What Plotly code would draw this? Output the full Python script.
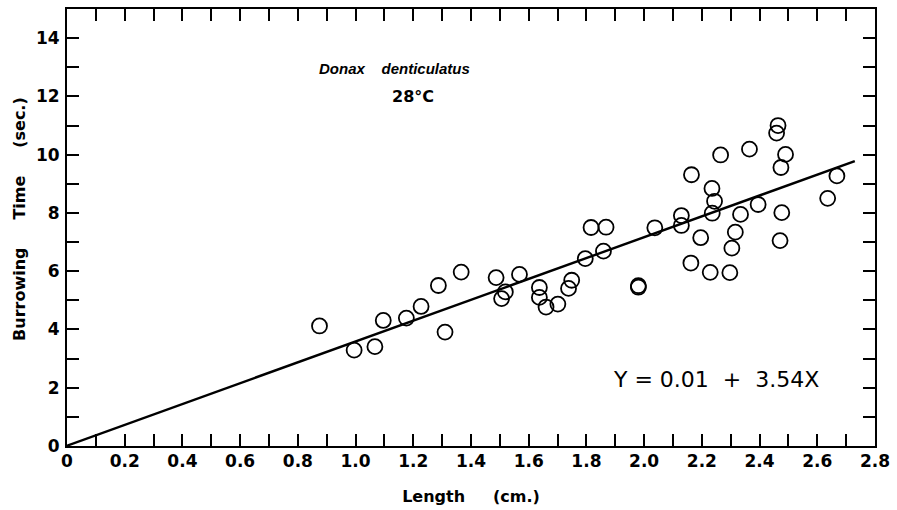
import plotly.graph_objects as go

# Data: shell length (cm) vs burrowing time (s)
length_cm = [0.875, 0.995, 1.067, 1.096, 1.176, 1.227, 1.287, 1.31, 1.366,
             1.487, 1.506, 1.519, 1.568, 1.637, 1.637, 1.66, 1.701, 1.738, 1.749,
             1.796, 1.816, 1.859, 1.868, 1.98, 1.98, 2.037, 2.129, 2.129,
             2.162, 2.164, 2.196, 2.229, 2.236, 2.244, 2.235, 2.265,
             2.297, 2.304, 2.316, 2.334, 2.365, 2.395,
             2.459, 2.464, 2.471, 2.474, 2.477, 2.49, 2.636, 2.668]
burrow_s = [4.12, 3.29, 3.41, 4.31, 4.39, 4.79, 5.51, 3.91, 5.97,
            5.78, 5.06, 5.29, 5.89, 5.44, 5.10, 4.77, 4.87, 5.41, 5.69,
            6.43, 7.50, 6.69, 7.51, 5.50, 5.45, 7.49, 7.91, 7.57,
            6.28, 9.31, 7.15, 5.96, 7.99, 8.40, 8.84, 9.99,
            5.95, 6.79, 7.34, 7.95, 10.19, 8.29,
            10.74, 11.0, 7.05, 9.56, 8.01, 10.01, 8.50, 9.27]

# Regression line Y = 0.01 + 3.54X, endpoints as drawn
fit_x = [0.0, 2.73]
fit_y = [0.01, 9.78]

x_tickvals = [i / 10 for i in range(0, 29)]
x_ticktext = ["0", "", "0.2", "", "0.4", "", "0.6", "", "0.8", "", "1.0", "",
              "1.2", "", "1.4", "", "1.6", "", "1.8", "", "2.0", "", "2.2", "",
              "2.4", "", "2.6", "", "2.8"]
y_tickvals = list(range(0, 15))
y_ticktext = ["0", "", "2", "", "4", "", "6", "", "8", "", "10", "", "12", "", "14"]

font_family = "DejaVu Sans"
sp = "\u00a0"

fig = go.Figure()
fig.add_trace(go.Scatter(
    x=fit_x, y=fit_y, mode="lines",
    line=dict(color="black", width=2.4),
    showlegend=False, hoverinfo="skip"))
fig.add_trace(go.Scatter(
    x=length_cm, y=burrow_s, mode="markers",
    marker=dict(symbol="circle-open", size=15, color="black",
                line=dict(width=1.8, color="black")),
    showlegend=False))

axis_common = dict(
    showgrid=False, zeroline=False, showline=True, linecolor="black",
    linewidth=2, mirror="ticks", ticks="inside", ticklen=12, tickwidth=1.7,
    tickcolor="black",
    tickfont=dict(family=font_family, size=17, color="black", weight="bold"))

fig.update_xaxes(
    range=[0, 2.8], tickmode="array", tickvals=x_tickvals, ticktext=x_ticktext,
    title=dict(text="<b>Length" + sp * 5 + "(cm.)</b>",
               font=dict(family=font_family, size=16, color="black"), standoff=20),
    ticklabelstandoff=-1,
    **axis_common)
fig.update_yaxes(
    range=[0, 15], tickmode="array", tickvals=y_tickvals, ticktext=y_ticktext,
    ticklabelstandoff=2,
    **axis_common)

# y-axis title placed as in the original
fig.add_annotation(x=-0.058, y=0.52, xref="paper", yref="paper", showarrow=False,
                   textangle=-90, xanchor="center", yanchor="middle",
                   text="<b>Burrowing" + sp * 5 + "Time" + sp * 5 + "(sec.)</b>",
                   font=dict(family=font_family, size=16, color="black"))

fig.add_annotation(x=1.135, y=12.95, xref="x", yref="y", showarrow=False,
                   text="<b><i>Donax" + sp * 4 + "denticulatus</i></b>",
                   font=dict(family="Liberation Sans", size=15, color="black"))
fig.add_annotation(x=1.2, y=12.0, xref="x", yref="y", showarrow=False,
                   text="<b>28°C</b>",
                   font=dict(family=font_family, size=16, color="black"))
fig.add_annotation(x=2.25, y=2.27, xref="x", yref="y", showarrow=False,
                   text="Y = 0.01" + sp * 2 + "+" + sp * 2 + "3.54X",
                   font=dict(family=font_family, size=22, color="black"))

fig.update_layout(
    width=897, height=510,
    margin=dict(l=67, r=19, t=7, b=63),
    paper_bgcolor="white", plot_bgcolor="white")

# remove the browser's default page margin so the figure fills the window
fig.write_html("out.html", config={"displayModeBar": False},
               post_script="document.body.style.margin='0';")
